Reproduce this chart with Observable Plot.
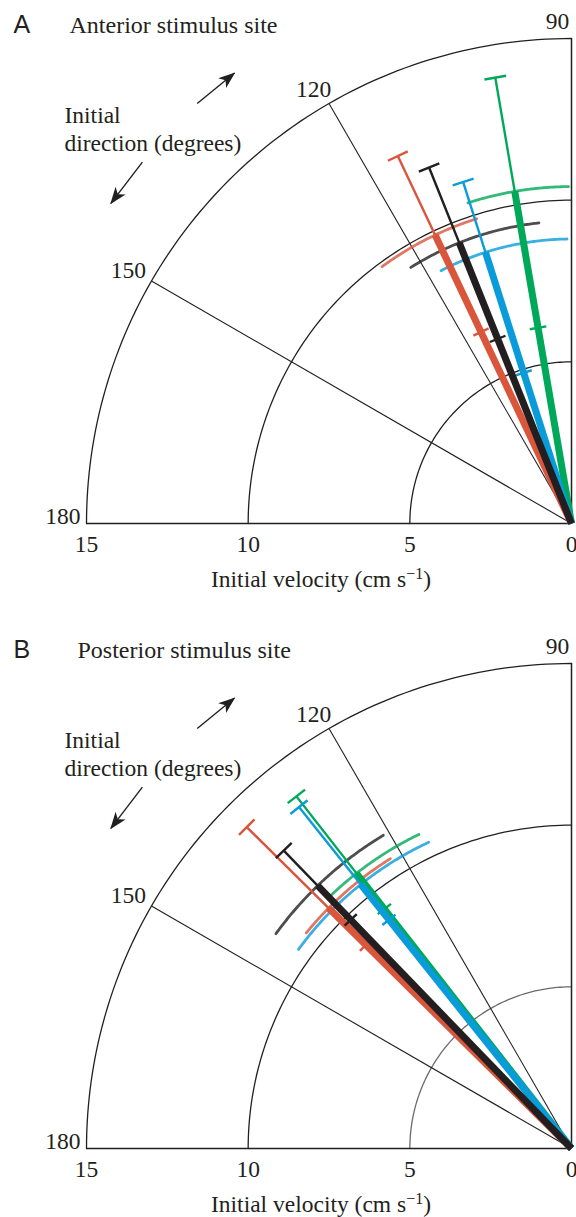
<!DOCTYPE html>
<html><head><meta charset="utf-8">
<script src="https://cdn.jsdelivr.net/npm/d3@7"></script>
<script src="https://cdn.jsdelivr.net/npm/@observablehq/plot@0.6"></script>
<style>
body{margin:0;background:#fff;}
#chart{width:576px;}
#chart svg{display:block;}
#chart svg text{font-family:"Liberation Serif","Times New Roman",serif;}
#chart svg text.sans{font-family:"Liberation Sans",Arial,sans-serif;}
</style></head><body><div id="chart"></div>
<script>
// ---- data ----
const seriesNames = ["red", "green", "blue", "black"];
const seriesColors = ["#d9553b", "#00a859", "#0a9bd9", "#231f20"];

// Panel A: anterior stimulus site
const dirA = [115.3, 99.7, 107.6, 111.8];      // mean initial direction (deg)
const velA = [9.87, 10.42, 8.8, 9.35];         // mean initial velocity (cm/s)
const velLoA = [6.55, 6.14, 4.89, 6.15];       // velocity - SD
const velHiA = [12.57, 13.99, 11.08, 11.86];   // velocity + SD
const arcFromA = [107.3, 90.5, 90.9, 96.2];    // direction - SD
const arcToA = [126.4, 107.9, 117.3, 122.1];   // direction + SD

// Panel B: posterior stimulus site
const dirB = [135.3, 128.0, 128.6, 134.0];
const velB = [10.57, 10.8, 10.45, 11.3];
const velLoB = [8.95, 9.4, 9.05, 9.83];
const velHiB = [14.13, 13.82, 13.51, 12.81];
const arcFromB = [122.0, 115.9, 115.0, 121.0];
const arcToB = [140.9, 133.8, 143.9, 144.0];

const radiusTicks = [-15, -10, -5, 0];
const gridRadii = [5, 10, 15];
const gridAngles = [120, 150];
const angleLabels = ["90", "120", "150", "180"];
const angleLabelDirs = [90, 120, 150, 180];
const arrowRadius = [17.4, 17.35];
const arrowFrom = [131.7, 139.9];
const arrowTo = [126.8, 145.2];

// ---- helpers ----
const INK = "#231f20";
const SERIF = "Liberation Serif";
const rad = d => d * Math.PI / 180;
const P = (r, a) => ({x: r * Math.cos(rad(a)), y: r * Math.sin(rad(a))});
function arcPts(r, a0, a1, n = 90) {
  const pts = [];
  for (let i = 0; i <= n; i++) pts.push(P(r, a0 + (a1 - a0) * i / n));
  return pts;
}
function perp(r, a, h) {
  const c = P(r, a), ux = -Math.sin(rad(a)), uy = Math.cos(rad(a));
  return {x1: c.x - h * ux, y1: c.y - h * uy, x2: c.x + h * ux, y2: c.y + h * uy};
}
function arrowHead(color, context) {
  const doc = (context && context.document) || document;
  const ns = "http://www.w3.org/2000/svg";
  const m = doc.createElementNS(ns, "marker");
  m.setAttribute("viewBox", "-17 -7 18 14");
  m.setAttribute("markerWidth", "18");
  m.setAttribute("markerHeight", "14");
  m.setAttribute("markerUnits", "userSpaceOnUse");
  m.setAttribute("orient", "auto");
  m.setAttribute("refX", "0");
  m.setAttribute("refY", "0");
  const p = doc.createElementNS(ns, "path");
  p.setAttribute("d", "M1,0L-16,-6.3L-11.5,0L-16,6.3Z");
  p.setAttribute("fill", INK);
  p.setAttribute("stroke", "none");
  m.appendChild(p);
  return m;
}

const ML = 86, MT = 38;

function panel(cfg) {
  const rows = seriesNames.map((name, i) => ({
    name, color: seriesColors[i], dir: cfg.dir[i], v: cfg.vel[i],
    lo: cfg.lo[i], hi: cfg.hi[i], a0: cfg.a0[i], a1: cfg.a1[i]
  }));
  const marks = [];
  // grid arcs
  gridRadii.forEach((r, i) => marks.push(Plot.line(arcPts(r, 90, 180), {x: "x", y: "y", stroke: cfg.gridColors[i], strokeWidth: 1.3})));
  // radial grid lines
  marks.push(Plot.link(gridAngles, {x1: 0, y1: 0, x2: a => P(15, a).x, y2: a => P(15, a).y, stroke: INK, strokeWidth: 1.1}));
  marks.push(Plot.ruleY([0], {x1: -15, x2: 0, stroke: INK, strokeWidth: 1.5}));
  marks.push(Plot.ruleX([0], {y1: 0, y2: 15, stroke: INK, strokeWidth: 1.5}));
  // direction SD arcs at mean velocity
  rows.forEach(d => marks.push(Plot.line(arcPts(d.v, d.a0, d.a1), {x: "x", y: "y", stroke: d.color, strokeWidth: 2.8, strokeOpacity: 0.8})));
  // vectors
  rows.forEach(d => {
    marks.push(Plot.link([d], {x1: 0, y1: 0, x2: r => P(r.hi, r.dir).x, y2: r => P(r.hi, r.dir).y, stroke: d.color, strokeWidth: 2.4}));
    marks.push(Plot.link([d], {x1: r => perp(r.hi, r.dir, 0.34).x1, y1: r => perp(r.hi, r.dir, 0.34).y1, x2: r => perp(r.hi, r.dir, 0.34).x2, y2: r => perp(r.hi, r.dir, 0.34).y2, stroke: d.color, strokeWidth: 2.4}));
    marks.push(Plot.link([d], {x1: r => perp(r.lo, r.dir, 0.26).x1, y1: r => perp(r.lo, r.dir, 0.26).y1, x2: r => perp(r.lo, r.dir, 0.26).x2, y2: r => perp(r.lo, r.dir, 0.26).y2, stroke: d.color, strokeWidth: 2.4}));
    marks.push(Plot.link([d], {x1: 0, y1: 0, x2: r => P(r.v, r.dir).x, y2: r => P(r.v, r.dir).y, stroke: d.color, strokeWidth: 7}));
  });
  // direction arrows
  marks.push(Plot.link(arrowRadius.map((r, i) => ({r, a0: arrowFrom[i], a1: arrowTo[i]})), {
    x1: d => P(d.r, d.a0).x, y1: d => P(d.r, d.a0).y, x2: d => P(d.r, d.a1).x, y2: d => P(d.r, d.a1).y,
    stroke: INK, strokeWidth: 1.4, markerEnd: arrowHead
  }));
  // velocity axis
  marks.push(Plot.axisX({ticks: radiusTicks, tickFormat: d => String(Math.abs(d)), tickSize: 0, tickPadding: 12, label: null, fontSize: 23.5, fontFamily: SERIF, fill: INK}));
  // angle labels
  const offs = [[-14, -10, "middle"], [-15.5, -6, "middle"], [-23, -3.5, "middle"], [-6, 0, "end"]];
  angleLabels.forEach((t, i) => marks.push(Plot.text([t], {
    x: P(15, angleLabelDirs[i]).x, y: P(15, angleLabelDirs[i]).y, text: d => d,
    dx: offs[i][0], dy: offs[i][1], textAnchor: offs[i][2], lineAnchor: "bottom", fontSize: 23.5, fontFamily: SERIF, fill: INK
  })));
  // titles & labels
  const txt = (s, x, y, o = {}) => Plot.text([s], Object.assign({frameAnchor: "top-left", text: d => d, dx: x - ML, dy: y - MT, lineAnchor: "bottom", textAnchor: "start", fontSize: 23.5, fontFamily: SERIF, fill: INK}, o));
  marks.push(txt(cfg.letter, 13, 32, {fontFamily: "Liberation Sans", fontSize: 25}));
  marks.push(txt(cfg.title, cfg.titleX, 32, {fontSize: 24}));
  marks.push(txt("Initial", 64, 122));
  marks.push(txt("direction (degrees)", 64, 150));
  marks.push(Plot.text(["Initial velocity (cm s\u22121)"], {frameAnchor: "bottom", text: d => d, dx: -8, dy: 63, lineAnchor: "bottom", textAnchor: "middle", fontSize: 23.5, fontFamily: SERIF, fill: INK}));

  const svg = Plot.plot({
    width: 576, height: cfg.height,
    marginLeft: ML, marginRight: 5, marginTop: MT, marginBottom: cfg.height - 523,
    x: {domain: [-15, 0]}, y: {domain: [0, 15], axis: null},
    style: {fontFamily: SERIF, fontSize: "23.5px", background: "#fff", color: INK, overflow: "visible"},
    marks
  });
  svg.querySelectorAll("text").forEach(t => {
    if (t.textContent === cfg.letter) t.setAttribute("class", "sans");
    if (t.textContent === "Initial velocity (cm s\u22121)") {
      t.textContent = "Initial velocity (cm s";
      const ns = "http://www.w3.org/2000/svg";
      const s1 = document.createElementNS(ns, "tspan");
      s1.setAttribute("dy", "-8"); s1.setAttribute("font-size", "16px"); s1.textContent = "\u22121";
      const s2 = document.createElementNS(ns, "tspan");
      s2.setAttribute("dy", "8"); s2.setAttribute("font-size", "23.5px"); s2.textContent = ")";
      t.appendChild(s1); t.appendChild(s2);
    }
  });
  return svg;
}

const chart = document.getElementById("chart");
chart.appendChild(panel({
  letter: "A", title: "Anterior stimulus site", titleX: 69, height: 625,
  dir: dirA, vel: velA, lo: velLoA, hi: velHiA, a0: arcFromA, a1: arcToA,
  gridColors: [INK, INK, INK]
}));
chart.appendChild(panel({
  letter: "B", title: "Posterior stimulus site", titleX: 77, height: 592,
  dir: dirB, vel: velB, lo: velLoB, hi: velHiB, a0: arcFromB, a1: arcToB,
  gridColors: ["#6b6b6b", INK, INK]
}));
</script></body></html>
